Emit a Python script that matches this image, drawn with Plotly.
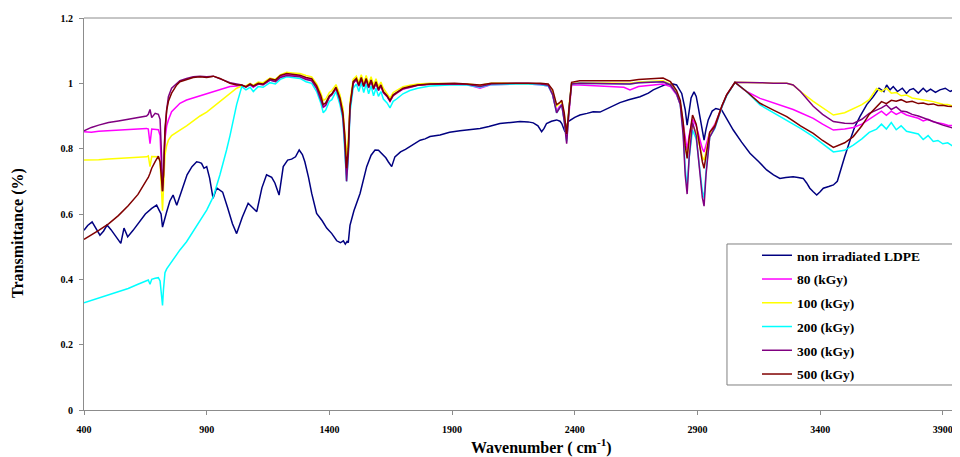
import plotly.graph_objects as go

# ---------------- data ----------------
wn_ldpe = [400, 415, 433, 450, 465, 480, 494, 510, 530, 550, 563, 578, 600, 628, 650, 676, 696, 706, 714, 720,
           728, 737, 750, 763, 778, 798, 820, 840, 859, 870, 879, 889, 900, 912, 926, 941, 965, 985, 1005, 1022,
           1045, 1069, 1085, 1104, 1125, 1144, 1165, 1178, 1195, 1212, 1230, 1246, 1262, 1277, 1290, 1300, 1315, 1328, 1348, 1370,
           1389, 1410, 1430, 1445, 1457, 1465, 1472, 1477, 1484, 1500, 1525, 1552, 1570, 1586, 1600, 1613, 1630, 1640, 1654, 1667,
           1690, 1710, 1728, 1750, 1770, 1790, 1810, 1851, 1890, 1932, 1970, 2014, 2050, 2095, 2140, 2177, 2210, 2231, 2250, 2265,
           2275, 2285, 2305, 2326, 2340, 2347, 2360, 2373, 2400, 2421, 2450, 2475, 2503, 2540, 2584, 2620, 2666, 2700, 2720, 2750,
           2775, 2800, 2815, 2836, 2850, 2858, 2864, 2874, 2886, 2895, 2903, 2915, 2927, 2935, 2944, 2960, 2975, 2999, 3020, 3046,
           3080, 3114, 3150, 3182, 3210, 3236, 3260, 3290, 3310, 3331, 3345, 3358, 3372, 3386, 3400, 3413, 3435, 3454, 3470, 3481,
           3500, 3522, 3540, 3562, 3590, 3616, 3640, 3660, 3671, 3685, 3698, 3715, 3735, 3752, 3765, 3780, 3800, 3820, 3834, 3850,
           3870, 3888, 3910, 3930, 3950, 3970]
t_ldpe = [0.550, 0.565, 0.576, 0.555, 0.535, 0.548, 0.566, 0.552, 0.530, 0.510, 0.557, 0.530, 0.550, 0.580, 0.600, 0.617, 0.627, 0.612, 0.600, 0.560,
          0.585, 0.607, 0.640, 0.658, 0.627, 0.673, 0.720, 0.745, 0.760, 0.758, 0.755, 0.740, 0.745, 0.710, 0.648, 0.680, 0.667, 0.620, 0.570, 0.540,
          0.590, 0.633, 0.620, 0.607, 0.680, 0.720, 0.712, 0.695, 0.658, 0.745, 0.765, 0.768, 0.775, 0.796, 0.782, 0.760, 0.712, 0.663, 0.602, 0.580,
          0.557, 0.540, 0.518, 0.512, 0.518, 0.508, 0.516, 0.512, 0.565, 0.610, 0.663, 0.745, 0.780, 0.796, 0.795, 0.786, 0.772, 0.760, 0.745, 0.775,
          0.790, 0.798, 0.806, 0.815, 0.826, 0.830, 0.837, 0.842, 0.850, 0.855, 0.858, 0.862, 0.868, 0.877, 0.880, 0.883, 0.882, 0.879, 0.870, 0.852,
          0.862, 0.877, 0.884, 0.888, 0.884, 0.877, 0.852, 0.883, 0.896, 0.903, 0.908, 0.913, 0.912, 0.925, 0.941, 0.950, 0.959, 0.970, 0.980, 0.990,
          0.998, 0.998, 0.995, 0.969, 0.920, 0.872, 0.900, 0.955, 0.974, 0.960, 0.928, 0.870, 0.826, 0.860, 0.888, 0.915, 0.923, 0.918, 0.890, 0.857,
          0.820, 0.786, 0.760, 0.735, 0.720, 0.709, 0.712, 0.714, 0.712, 0.709, 0.695, 0.679, 0.668, 0.658, 0.668, 0.679, 0.684, 0.689, 0.700, 0.725,
          0.775, 0.826, 0.865, 0.898, 0.935, 0.959, 0.985, 0.975, 0.995, 0.980, 0.990, 0.975, 0.985, 0.969, 0.980, 0.984, 0.970, 0.985, 0.974, 0.982,
          0.972, 0.980, 0.985, 0.975, 0.983, 0.982]

# wavenumbers shared by the irradiated samples
wn_irr = [400, 430, 460, 500, 540, 580, 620, 655, 662, 669, 676, 690, 703, 710, 716, 720, 724, 730, 737, 744,
          757, 778, 791, 818, 845, 873, 900, 927, 954, 981, 995, 1022, 1043,
          1060, 1077, 1090, 1110, 1130, 1158, 1180, 1200, 1226, 1250, 1280, 1305, 1328, 1348, 1365, 1375, 1385, 1400,
          1410, 1427, 1443, 1455, 1463, 1470, 1477, 1484, 1497,
          1510, 1520, 1530, 1540, 1550, 1560, 1570, 1580, 1590, 1600, 1610, 1620, 1635, 1647, 1660, 1674, 1700, 1728, 1760, 1810,
          1860, 1910, 1960, 2014, 2060, 2110, 2160, 2210, 2260, 2292, 2310, 2326, 2337, 2347, 2357, 2367, 2377, 2387,
          2420, 2480, 2540, 2600, 2625, 2660, 2720, 2760, 2790, 2815, 2830, 2842, 2850, 2858, 2866, 2880, 2895, 2910, 2920, 2927,
          2935, 2950, 2971, 3000, 3019, 3053,
          3100, 3155, 3210, 3264, 3290, 3320, 3372, 3410, 3454, 3500, 3535, 3570, 3600, 3630, 3650, 3670, 3690, 3710, 3730, 3752,
          3775, 3800, 3820, 3840, 3861, 3880, 3900, 3920, 3945, 3970]

t_80 = [0.852, 0.850, 0.853, 0.855, 0.856, 0.858, 0.860, 0.862, 0.860, 0.815, 0.860, 0.858, 0.858, 0.840, 0.760, 0.670, 0.720, 0.830, 0.870, 0.888,
        0.913, 0.930, 0.939, 0.949, 0.955, 0.962, 0.968, 0.974, 0.980, 0.986, 0.990, 0.992, 0.993,
        0.990, 0.996, 0.988, 0.998, 0.996, 1.010, 1.006, 1.020, 1.028, 1.026, 1.022, 1.015, 1.010, 0.985, 0.955, 0.925, 0.935, 0.958,
        0.965, 0.985, 0.945, 0.900, 0.820, 0.720, 0.790, 0.925, 1.000,
        1.012, 0.992, 1.015, 0.990, 1.012, 0.988, 1.008, 0.982, 1.002, 0.980, 0.992, 0.972, 0.960, 0.945, 0.962, 0.970, 0.982, 0.988, 0.994, 0.997,
        0.998, 0.998, 0.996, 0.985, 0.996, 0.998, 0.998, 0.998, 0.996, 0.992, 0.965, 0.915, 0.928, 0.935, 0.890, 0.830, 0.925, 0.995,
        0.995, 0.993, 0.992, 0.988, 0.980, 0.990, 0.995, 0.998, 0.990, 0.965, 0.935, 0.880, 0.830, 0.796, 0.840, 0.890, 0.870, 0.830, 0.800, 0.790,
        0.810, 0.850, 0.875, 0.932, 0.965, 1.003,
        0.975, 0.954, 0.940, 0.928, 0.920, 0.910, 0.893, 0.875, 0.857, 0.860, 0.865, 0.875, 0.890, 0.903, 0.915, 0.902, 0.915, 0.905, 0.912, 0.903,
        0.898, 0.893, 0.885, 0.890, 0.882, 0.878, 0.876, 0.872, 0.870, 0.868]

t_100 = [0.765, 0.765, 0.766, 0.768, 0.770, 0.772, 0.773, 0.775, 0.778, 0.745, 0.776, 0.775, 0.775, 0.760, 0.690, 0.610, 0.680, 0.780, 0.810, 0.826,
         0.840, 0.852, 0.857, 0.870, 0.885, 0.900, 0.912, 0.928, 0.945, 0.960, 0.969, 0.985, 0.992,
         0.992, 1.000, 0.994, 1.004, 1.002, 1.016, 1.012, 1.026, 1.034, 1.032, 1.030, 1.024, 1.020, 0.998, 0.970, 0.948, 0.952, 0.972,
         0.978, 0.996, 0.965, 0.925, 0.860, 0.780, 0.830, 0.945, 1.012,
         1.022, 1.004, 1.026, 1.002, 1.024, 0.998, 1.020, 0.995, 1.014, 0.990, 1.004, 0.985, 0.970, 0.955, 0.972, 0.978, 0.990, 0.994, 0.998, 1.000,
         1.000, 1.000, 0.998, 0.994, 1.000, 1.000, 1.000, 1.000, 0.998, 0.995, 0.975, 0.930, 0.938, 0.945, 0.905, 0.840, 0.935, 1.000,
         1.002, 1.002, 1.002, 1.002, 1.000, 1.004, 1.006, 1.008, 0.998, 0.972, 0.940, 0.870, 0.800, 0.780, 0.820, 0.872, 0.850, 0.800, 0.775, 0.765,
         0.790, 0.848, 0.870, 0.930, 0.964, 1.003,
         1.003, 1.002, 1.000, 1.000, 0.995, 0.975, 0.945, 0.925, 0.903, 0.910, 0.923, 0.935, 0.950, 0.984, 0.975, 0.985, 0.970, 0.972, 0.962, 0.964,
         0.955, 0.952, 0.948, 0.946, 0.944, 0.940, 0.936, 0.935, 0.930, 0.928]

t_200 = [0.328, 0.335, 0.342, 0.352, 0.362, 0.372, 0.385, 0.395, 0.398, 0.385, 0.400, 0.403, 0.405, 0.395, 0.350, 0.320, 0.370, 0.420, 0.432, 0.440,
         0.455, 0.475, 0.490, 0.515, 0.546, 0.578, 0.612, 0.653, 0.720, 0.796, 0.840, 0.935, 0.990,
         0.980, 0.988, 0.975, 0.990, 0.988, 1.002, 0.998, 1.012, 1.020, 1.018, 1.015, 1.005, 1.000, 0.975, 0.940, 0.910, 0.918, 0.945,
         0.950, 0.975, 0.935, 0.890, 0.800, 0.700, 0.770, 0.910, 0.985,
         0.998, 0.975, 1.002, 0.972, 0.998, 0.968, 0.992, 0.962, 0.985, 0.960, 0.975, 0.952, 0.940, 0.925, 0.945, 0.952, 0.968, 0.978, 0.985, 0.992,
         0.995, 0.996, 0.995, 0.988, 0.996, 0.998, 0.998, 0.998, 0.996, 0.992, 0.965, 0.910, 0.925, 0.935, 0.885, 0.822, 0.925, 0.998,
         1.000, 1.000, 1.000, 1.000, 0.998, 1.002, 1.004, 1.005, 0.995, 0.968, 0.935, 0.850, 0.740, 0.684, 0.770, 0.857, 0.830, 0.740, 0.670, 0.648,
         0.730, 0.835, 0.862, 0.928, 0.962, 1.003,
         0.975, 0.934, 0.910, 0.888, 0.875, 0.862, 0.837, 0.815, 0.790, 0.795, 0.811, 0.830, 0.850, 0.860, 0.875, 0.860, 0.880, 0.858, 0.870, 0.853,
         0.850, 0.845, 0.828, 0.840, 0.822, 0.825, 0.815, 0.818, 0.806, 0.810]

t_300 = [0.855, 0.865, 0.872, 0.880, 0.885, 0.890, 0.895, 0.900, 0.905, 0.920, 0.895, 0.908, 0.905, 0.890, 0.780, 0.670, 0.720, 0.860, 0.920, 0.959,
         0.985, 1.000, 1.008, 1.015, 1.020, 1.022, 1.020, 1.022, 1.015, 1.008, 1.002, 0.998, 0.995,
         0.988, 0.996, 0.990, 0.998, 0.996, 1.010, 1.005, 1.018, 1.024, 1.022, 1.020, 1.012, 1.008, 0.985, 0.952, 0.928, 0.932, 0.958,
         0.965, 0.985, 0.948, 0.900, 0.810, 0.700, 0.780, 0.925, 1.000,
         1.012, 0.992, 1.014, 0.990, 1.012, 0.986, 1.008, 0.982, 1.000, 0.978, 0.992, 0.972, 0.960, 0.945, 0.962, 0.970, 0.983, 0.988, 0.994, 0.997,
         0.998, 0.998, 0.997, 0.990, 0.998, 1.000, 1.000, 1.000, 0.998, 0.994, 0.965, 0.910, 0.925, 0.935, 0.885, 0.815, 0.925, 0.998,
         1.000, 1.000, 1.000, 1.000, 0.998, 1.002, 1.004, 1.005, 0.995, 0.968, 0.935, 0.840, 0.720, 0.661, 0.770, 0.880, 0.840, 0.720, 0.650, 0.624,
         0.720, 0.835, 0.865, 0.930, 0.964, 1.003,
         1.003, 1.002, 1.000, 1.000, 0.995, 0.975, 0.930, 0.905, 0.883, 0.878, 0.877, 0.890, 0.908, 0.918, 0.925, 0.934, 0.920, 0.928, 0.915, 0.913,
         0.905, 0.900, 0.895, 0.890, 0.885, 0.878, 0.872, 0.868, 0.862, 0.857]

t_500 = [0.522, 0.535, 0.550, 0.570, 0.595, 0.625, 0.660, 0.704, 0.712, 0.725, 0.740, 0.760, 0.777, 0.760, 0.700, 0.670, 0.720, 0.850, 0.918, 0.945,
         0.970, 0.995, 1.005, 1.012, 1.018, 1.020, 1.018, 1.022, 1.015, 1.005, 1.000, 0.995, 0.995,
         0.990, 0.998, 0.992, 1.000, 0.998, 1.014, 1.010, 1.024, 1.030, 1.028, 1.025, 1.018, 1.014, 0.992, 0.962, 0.935, 0.940, 0.962,
         0.968, 0.988, 0.955, 0.910, 0.840, 0.740, 0.800, 0.930, 1.005,
         1.015, 0.995, 1.018, 0.992, 1.015, 0.990, 1.010, 0.985, 1.005, 0.982, 0.995, 0.975, 0.962, 0.948, 0.965, 0.972, 0.985, 0.990, 0.995, 0.998,
         1.000, 1.000, 0.998, 0.995, 1.000, 1.000, 1.002, 1.002, 1.000, 0.998, 0.980, 0.935, 0.940, 0.948, 0.910, 0.845, 0.935, 1.003,
         1.008, 1.008, 1.010, 1.010, 1.008, 1.012, 1.014, 1.016, 1.005, 0.978, 0.948, 0.880, 0.810, 0.770, 0.830, 0.903, 0.875, 0.800, 0.760, 0.740,
         0.780, 0.850, 0.870, 0.932, 0.965, 1.003,
         0.975, 0.939, 0.918, 0.898, 0.885, 0.870, 0.847, 0.825, 0.804, 0.818, 0.837, 0.870, 0.905, 0.930, 0.944, 0.938, 0.948, 0.945, 0.950, 0.942,
         0.945, 0.938, 0.940, 0.935, 0.937, 0.932, 0.933, 0.930, 0.930, 0.928]

series_names = ["non irradiated LDPE", "80 (kGy)", "100 (kGy)", "200 (kGy)", "300 (kGy)", "500 (kGy)"]
series_colors = ["#000080", "#FF00FF", "#FFFF00", "#00FFFF", "#800080", "#800000"]
series_x = [wn_ldpe, wn_irr, wn_irr, wn_irr, wn_irr, wn_irr]
series_y = [t_ldpe, t_80, t_100, t_200, t_300, t_500]

x_ticks = [400, 900, 1400, 1900, 2400, 2900, 3400, 3900]
y_ticks = [0, 0.2, 0.4, 0.6, 0.8, 1.0, 1.2]
y_tick_text = ["0", "0.2", "0.4", "0.6", "0.8", "1", "1.2"]

for xs, ys in zip(series_x, series_y):
    assert len(xs) == len(ys), (len(xs), len(ys))

# ---------------- figure ----------------
SERIF = "Liberation Serif, Times New Roman, serif"
AXIS_GREY = "#8c8c8c"

fig = go.Figure()
for name, color, xs, ys in zip(series_names, series_colors, series_x, series_y):
    fig.add_trace(go.Scatter(x=xs, y=ys, mode="lines", name=name, legendgroup=name,
                             line=dict(color=color, width=1.5)))

# the page body has an 8px margin, so the figure is 8px smaller than the window
fig.update_layout(
    width=952, height=449,
    margin=dict(l=76, r=0, t=10, b=47),
    plot_bgcolor="white", paper_bgcolor="white",
    showlegend=True,
    legend=dict(x=0.734, y=0.4337, xanchor="left", yanchor="top",
                bgcolor="rgba(0,0,0,0)", borderwidth=0,
                font=dict(family=SERIF, size=13.5, color="black", weight="bold"),
                traceorder="grouped", tracegroupgap=3.2, indentation=30),
    xaxis=dict(range=[400, 3970], tickmode="array", tickvals=x_ticks,
               ticktext=[str(v) for v in x_ticks],
               showline=True, linecolor=AXIS_GREY, linewidth=1, mirror=False,
               ticks="outside", ticklen=4, tickcolor=AXIS_GREY, ticklabelstandoff=6,
               showgrid=False, zeroline=False,
               tickfont=dict(family=SERIF, size=10, color="black", weight="bold")),
    yaxis=dict(range=[0, 1.2], tickmode="array", tickvals=y_ticks, ticktext=y_tick_text,
               showline=True, linecolor=AXIS_GREY, linewidth=1, mirror=False,
               ticks="outside", ticklen=4, tickcolor=AXIS_GREY, ticklabelstandoff=4,
               showgrid=False, zeroline=False,
               tickfont=dict(family=SERIF, size=10, color="black", weight="bold")),
    shapes=[
        dict(type="line", xref="paper", yref="paper", x0=0, x1=1, y0=1, y1=1,
             line=dict(color=AXIS_GREY, width=1)),
        # legend frame
        dict(type="rect", xref="paper", yref="paper", x0=0.734, x1=0.9954, y0=0.0638, y1=0.4235,
             layer="above", fillcolor="white", line=dict(color="#808080", width=1)),
    ],
    annotations=[
        dict(text="Transmittance (%)", xref="paper", yref="paper", x=-0.0753, y=0.4515,
             textangle=-90, showarrow=False, xanchor="center", yanchor="middle",
             font=dict(family=SERIF, size=16, color="black", weight="bold")),
        dict(text="Wavenumber ( cm<sup>-1</sup>)", xref="paper", yref="paper", x=0.522, y=-0.094,
             showarrow=False, xanchor="center", yanchor="middle",
             font=dict(family=SERIF, size=16, color="black", weight="bold")),
    ],
)

fig.write_html("out.html")
